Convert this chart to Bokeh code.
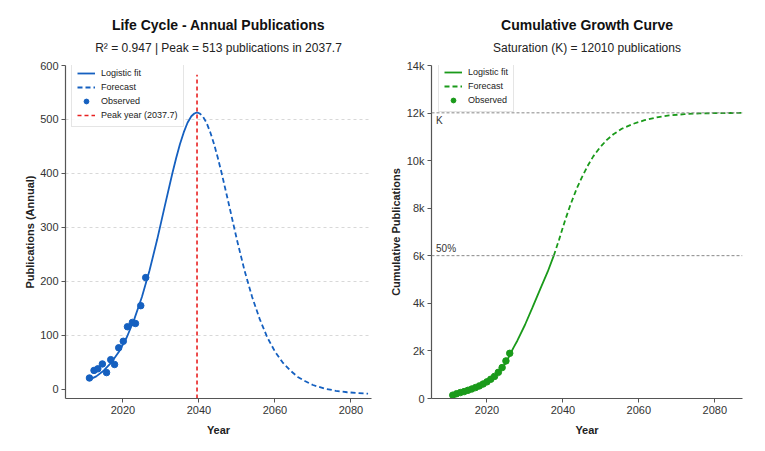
from bokeh.plotting import figure
from bokeh.layouts import row
from bokeh.models import Range1d, FixedTicker, Title, Legend, LegendItem, Label, Span
from bokeh.embed import file_html
from bokeh.resources import INLINE

FONT = "Liberation Sans"
BLUE = "#1560c0"
GREEN = "#1a9a1a"
RED = "#e82020"

# ---------------- data: left panel (annual publications) ----------------
obs_years_annual = [2011.2, 2012.4, 2013.4, 2014.6, 2015.7, 2016.8, 2017.8,
                    2018.9, 2020.1, 2021.2, 2022.5, 2023.3, 2024.7, 2026.0]
obs_annual = [21, 35, 38, 47, 31, 55, 46, 77, 89, 116, 124, 122, 155, 207]

fit_years_annual = [2011.2, 2013, 2015, 2017, 2019, 2021, 2023, 2025, 2027,
                    2029, 2031, 2033, 2034, 2035, 2036, 2037, 2038, 2038.8,
                    2039.5]
fit_annual = [18, 24, 35, 50, 70, 96, 130, 171, 220, 277, 339, 400, 428, 454,
              476, 494, 506, 511, 513]

fc_years_annual = [2039.5, 2040.2, 2041, 2042, 2043, 2044, 2045, 2046, 2048,
                   2050, 2052, 2054, 2056, 2058, 2060, 2062, 2064, 2066, 2068,
                   2070, 2073, 2076, 2079, 2082, 2084.5]
fc_annual = [513, 511, 506, 494, 476, 454, 428, 400, 339, 277, 220, 171, 130,
             96, 70, 50, 35, 23, 15, 8, 1.5, -2.7, -5.4, -7.1, -8]

peak_x = 2039.5
peak_line_y = [-17, 583]
annual_ticks_y = [0, 100, 200, 300, 400, 500, 600]
grid_ticks_y = [100, 200, 300, 400, 500]
year_ticks = [2020, 2040, 2060, 2080]

# ---------------- data: right panel (cumulative) ----------------
obs_years_cum = [2011, 2012, 2013, 2014, 2015, 2016, 2017, 2018, 2019, 2020,
                 2021, 2022, 2023, 2024, 2025, 2026]
obs_cum = [140, 200, 250, 290, 345, 400, 460, 530, 610, 700, 810, 930, 1100,
           1300, 1580, 1900]

fit_years_cum = [2011, 2013, 2015, 2017, 2019, 2021, 2023, 2025, 2026.1, 2027,
                 2028, 2030, 2032, 2034, 2036, 2037.6]
fit_cum = [150, 240, 340, 455, 600, 790, 1060, 1500, 1860, 2140, 2430, 3090,
           3830, 4590, 5330, 6005]

fc_years_cum = [2037.6, 2039, 2040.6, 2042, 2043.7, 2045, 2046.7, 2048, 2049.8,
                2051.5, 2053.3, 2055.5, 2058.6, 2061.5, 2064.7, 2068, 2072,
                2076, 2081, 2087]
fc_cum = [6005, 6680, 7500, 8150, 8850, 9300, 9830, 10180, 10560, 10860, 11110,
          11340, 11550, 11700, 11820, 11900, 11955, 11985, 12000, 12006]

K_value = 12010
half_value = 6005
cum_ticks = [0, 2000, 4000, 6000, 8000, 10000, 12000, 14000]
cum_tick_labels = ["0", "2k", "4k", "6k", "8k", "10k", "12k", "14k"]


def style(p):
    p.outline_line_color = None
    p.background_fill_color = "white"
    p.border_fill_color = "white"
    for ax in (p.xaxis[0], p.yaxis[0]):
        ax.axis_line_color = "#555555"
        ax.axis_line_width = 1.2
        ax.major_tick_line_color = "#555555"
        ax.major_tick_out = 4
        ax.major_tick_in = 0
        ax.minor_tick_line_color = None
        ax.major_label_text_font = FONT
        ax.major_label_text_font_size = "11px"
        ax.major_label_text_color = "#333333"
        ax.axis_label_text_font = FONT
        ax.axis_label_text_font_size = "11px"
        ax.axis_label_text_font_style = "bold"
        ax.axis_label_text_color = "#222222"
        ax.major_label_standoff = 3
    p.xaxis[0].axis_label_standoff = 7
    p.yaxis[0].axis_label_standoff = 1
    p.xaxis[0].ticker = FixedTicker(ticks=year_ticks)


def add_titles(p, main, sub):
    p.add_layout(Title(text=sub, align="center", text_font=FONT,
                       text_font_size="12px", text_font_style="normal",
                       text_color="#222222", standoff=22), "above")
    p.add_layout(Title(text=main, align="center", text_font=FONT,
                       text_font_size="14px", text_font_style="bold",
                       text_color="#111111", standoff=-11), "above")


def make_legend(items, loc):
    lg = Legend(items=items, location=loc, margin=0, padding=5, spacing=2,
                glyph_width=18, glyph_height=12, label_height=12,
                label_standoff=6, label_text_font=FONT,
                label_text_font_size="9px", label_text_color="#222222",
                border_line_color="#cccccc", border_line_width=1,
                background_fill_color="white", background_fill_alpha=0.9)
    return lg


# ---------------- left figure ----------------
p1 = figure(width=383, height=445, output_backend="svg", toolbar_location=None,
            title=None, x_range=Range1d(2004.9, 2085.4),
            y_range=Range1d(-17, 600),
            min_border_left=65, min_border_right=12, min_border_top=65,
            min_border_bottom=47)
style(p1)
p1.xaxis.axis_label = "Year"
p1.yaxis.axis_label = "Publications (Annual)"
p1.yaxis[0].ticker = FixedTicker(ticks=annual_ticks_y)
p1.xgrid.grid_line_color = None
p1.ygrid.ticker = FixedTicker(ticks=grid_ticks_y)
p1.ygrid.grid_line_color = "#d8d8d8"
p1.ygrid.grid_line_dash = "3 3"
p1.ygrid.grid_line_width = 1
add_titles(p1, "Life Cycle - Annual Publications",
           "R\u00b2 = 0.947 | Peak = 513 publications in 2037.7")

r_fit1 = p1.line(fit_years_annual, fit_annual, line_color=BLUE, line_width=1.8)
r_fc1 = p1.line(fc_years_annual, fc_annual, line_color=BLUE, line_width=1.8,
                line_dash="5 3")
r_peak = p1.line([peak_x, peak_x], peak_line_y, line_color=RED, line_width=1.6,
                 line_dash="4 3")
r_obs1 = p1.scatter(obs_years_annual, obs_annual, size=6.5, fill_color=BLUE,
                    line_color=BLUE, marker="circle")
p1.add_layout(make_legend([
    LegendItem(label="Logistic fit", renderers=[r_fit1]),
    LegendItem(label="Forecast", renderers=[r_fc1]),
    LegendItem(label="Observed", renderers=[r_obs1]),
    LegendItem(label="Peak year (2037.7)", renderers=[r_peak]),
], (6, 271)))

# ---------------- right figure ----------------
p2 = figure(width=374, height=445, output_backend="svg", toolbar_location=None,
            title=None, x_range=Range1d(2005.4, 2087.3),
            y_range=Range1d(0, 14000),
            min_border_left=48, min_border_right=15, min_border_top=65,
            min_border_bottom=47)
style(p2)
p2.xaxis.axis_label = "Year"
p2.yaxis.axis_label = "Cumulative Publications"
p2.yaxis[0].axis_label_standoff = 2
p2.yaxis[0].ticker = FixedTicker(ticks=cum_ticks)
p2.yaxis[0].major_label_overrides = {t: l for t, l in zip(cum_ticks, cum_tick_labels)}
p2.xgrid.grid_line_color = None
p2.ygrid.grid_line_color = None
add_titles(p2, "Cumulative Growth Curve", "Saturation (K) = 12010 publications")

p2.add_layout(Span(location=K_value, dimension="width", line_color="#888888",
                   line_width=1, line_dash="3 2"))
p2.add_layout(Span(location=half_value, dimension="width", line_color="#888888",
                   line_width=1, line_dash="3 2"))
p2.add_layout(Label(x=2006.6, y=K_value, text="K", text_font=FONT,
                    text_font_size="10px", text_color="#333333",
                    text_baseline="top", y_offset=-2))
p2.add_layout(Label(x=2006.6, y=half_value, text="50%", text_font=FONT,
                    text_font_size="10px", text_color="#333333",
                    text_baseline="bottom", y_offset=2))

r_fit2 = p2.line(fit_years_cum, fit_cum, line_color=GREEN, line_width=1.8)
r_fc2 = p2.line(fc_years_cum, fc_cum, line_color=GREEN, line_width=1.8,
                line_dash="5 3")
r_obs2 = p2.scatter(obs_years_cum, obs_cum, size=6.5, fill_color=GREEN,
                    line_color=GREEN, marker="circle")
p2.add_layout(make_legend([
    LegendItem(label="Logistic fit", renderers=[r_fit2]),
    LegendItem(label="Forecast", renderers=[r_fc2]),
    LegendItem(label="Observed", renderers=[r_obs2]),
], (7, 286)))

layout = row(p1, p2)
open("out.html", "w").write(file_html(layout, INLINE))
